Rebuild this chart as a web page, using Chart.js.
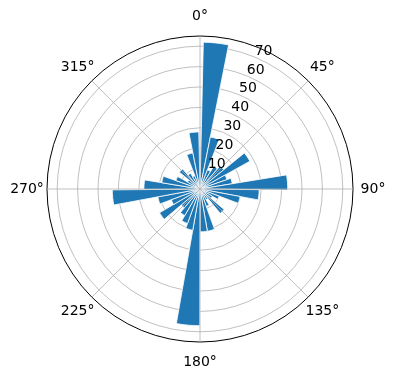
<!DOCTYPE html>
<html>
<head>
<meta charset="utf-8">
<script src="https://cdn.jsdelivr.net/npm/chart.js@4/dist/chart.umd.min.js"></script>
<style>
  html, body { margin: 0; padding: 0; background: #fff; }
  #wrap { width: 396px; height: 380px; }
</style>
</head>
<body>
<div id="wrap"><canvas id="myChart" width="396" height="380"></canvas></div>
<script>
// bin centres (degrees, clockwise from north)
const binCenters = [6, 16, 26, 36, 46, 56, 66, 76, 86, 96, 106, 116,
  125, 135, 145, 155, 165, 175, 185, 195, 205, 215, 225, 235,
  245, 255, 265, 275, 284, 294, 304, 314, 324, 334, 344, 354];
const counts = [72, 26, 10, 13, 15, 28, 14, 16, 43, 29, 20, 10,
  7, 15.5, 6, 9, 21, 21, 67, 20.5, 18, 15, 12, 23,
  15, 21, 43, 27.5, 19, 12.5, 7, 13, 9, 7, 18, 28];
const thetaTicks = ['0°', '45°', '90°', '135°', '180°', '225°', '270°', '315°'];
const rTicks = [10, 20, 30, 40, 50, 60, 70];
const rMax = 75;
const firstEdge = 1.3;   // where the first bin starts
const binWidth = 9.93;   // degrees per bin

const font = 'DejaVu Sans';

// angular grid lines + labels, matplotlib style
const polarDecor = {
  id: 'polarDecor',
  afterDatasetsDraw(chart) {
    const r = chart.scales.r;
    const ctx = chart.ctx;
    const cx = r.xCenter, cy = r.yCenter, R = r.drawingArea;
    ctx.save();
    ctx.strokeStyle = '#b0b0b0';
    ctx.lineWidth = 0.8;
    thetaTicks.forEach((t, i) => {
      const a = i * 45 * Math.PI / 180;
      ctx.beginPath();
      ctx.moveTo(cx, cy);
      ctx.lineTo(cx + R * Math.sin(a), cy - R * Math.cos(a));
      ctx.stroke();
    });
    ctx.restore();
  },
  afterDraw(chart) {
    const r = chart.scales.r;
    const ctx = chart.ctx;
    const cx = r.xCenter, cy = r.yCenter, R = r.drawingArea;
    ctx.save();
    ctx.fillStyle = '#000';
    ctx.font = '14px "' + font + '"';
    ctx.textAlign = 'center';
    ctx.textBaseline = 'middle';
    thetaTicks.forEach((t, i) => {
      const a = i * 45 * Math.PI / 180;
      ctx.fillText(t, cx + (R + 20) * Math.sin(a), cy - (R + 20) * Math.cos(a) + 0.5);
    });
    ctx.textAlign = 'left';
    const la = 22.5 * Math.PI / 180;
    rTicks.forEach(v => {
      const d = r.getDistanceFromCenterForValue(v);
      ctx.fillText(String(v), cx + d * Math.sin(la), cy - d * Math.cos(la) - 6);
    });
    ctx.restore();
  }
};

var ctx = document.getElementById('myChart').getContext('2d');
var myChart = new Chart(ctx, {
  type: 'polarArea',
  data: {
    labels: binCenters.map(c => c + '°'),
    datasets: [{
      data: counts,
      angle: binWidth,
      backgroundColor: '#1f77b4',
      borderColor: '#ffffff',
      borderWidth: 0.8
    }]
  },
  options: {
    responsive: false,
    animation: false,
    layout: { padding: { top: 36, bottom: 37, left: 47, right: 42 } },
    plugins: {
      legend: { display: false },
      tooltip: { enabled: false }
    },
    scales: {
      r: {
        z: 1,
        min: 0,
        max: rMax,
        startAngle: firstEdge,
        ticks: { display: false, stepSize: 5 },
        pointLabels: { display: false },
        angleLines: { display: false },
        grid: {
          circular: true,
          color: c => c.tick.value === rMax ? '#000000' : (c.tick.value % 10 === 0 ? '#b0b0b0' : 'rgba(0,0,0,0)'),
          lineWidth: c => c.tick.value === rMax ? 1 : 0.8
        }
      }
    }
  },
  plugins: [polarDecor]
});
</script>
</body>
</html>
